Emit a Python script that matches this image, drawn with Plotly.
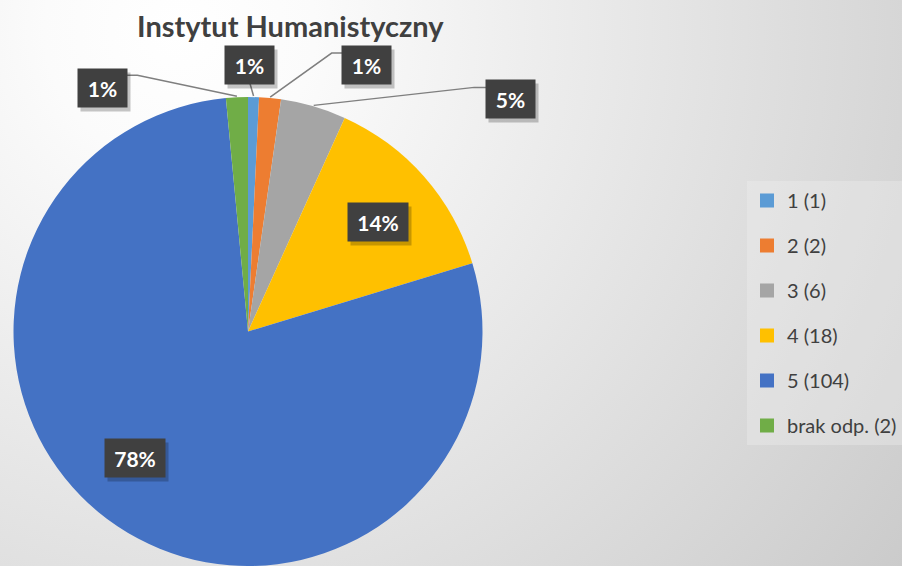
import math, base64
import plotly.graph_objects as go

# ---- data ----
categories = ["1", "2", "3", "4", "5", "brak odp."]
counts = [1, 2, 6, 18, 104, 2]
pct_labels = ["1%", "1%", "5%", "14%", "78%", "1%"]
colors = ["#5B9BD5", "#ED7D31", "#A5A5A5", "#FFC000", "#4472C4", "#70AD47"]
title_text = "Instytut Humanistyczny"

W, H = 902, 566
# pie placement (pixels)
PIE_L, PIE_R, PIE_T = 13, 483, 97
R = (PIE_R - PIE_L) / 2
CX = (PIE_L + PIE_R) / 2
CY = H - R

def px(x):
    return x / W

def py(y):
    return 1 - y / H

total = sum(counts)
mid_angles = []
acc = 0
for v in counts:
    mid_angles.append((acc + v / 2) / total * 2 * math.pi)
    acc += v

def polar(theta, rho):
    return CX + rho * math.sin(theta), CY - rho * math.cos(theta)

# label style: radius factor for anchor, box offset, box width, leader attach/elbow
label_style = {
    0: dict(rf=1.0, dx=-4, dy=-31, w=47, attach=(0, 17), elbow=None),
    1: dict(rf=1.0, dx=96, dy=-32, w=47, attach=(-23.5, -12), elbow=-11),
    2: dict(rf=1.0, dx=197, dy=-6, w=47, attach=(-23.5, -12), elbow=-13),
    3: dict(rf=0.72, dx=3, dy=3, w=58, attach=None, elbow=None),
    4: dict(rf=0.72, dx=-19, dy=-14, w=58, attach=None, elbow=None),
    5: dict(rf=1.0, dx=-134, dy=-8, w=47, attach=(23.5, -13), elbow=11),
}

fig = go.Figure()
fig.add_trace(go.Pie(
    labels=[f"{c} ({n})" for c, n in zip(categories, counts)],
    values=counts,
    sort=False,
    direction="clockwise",
    rotation=0,
    marker=dict(colors=colors, line=dict(width=0)),
    textinfo="none",
    hoverinfo="label+percent",
    showlegend=False,
    domain=dict(x=[px(PIE_L), px(PIE_R)], y=[0, py(PIE_T)]),
))

# legend entries via dummy traces (to get Excel-like spacing)
for c, n, col in zip(categories, counts, colors):
    fig.add_trace(go.Scatter(
        x=[None], y=[None], mode="markers",
        marker=dict(symbol="square", size=14, color=col),
        name=f"{c} ({n})", legendgroup=c, showlegend=True,
    ))

shapes = []
annotations = []
BOX_H = 36
for i, lab in enumerate(pct_labels):
    st = label_style[i]
    ax_, ay_ = polar(mid_angles[i], R * st["rf"])
    bx, by = ax_ + st["dx"], ay_ + st["dy"]
    if st["rf"] >= 1.0:
        atx, aty = bx + st["attach"][0], by + st["attach"][1]
        pts = [(ax_, ay_)]
        if st["elbow"] is not None:
            pts.append((atx + st["elbow"], aty))
        pts.append((atx, aty))
        path = "M " + " L ".join(f"{px(x)},{py(y)}" for x, y in pts)
        shapes.append(dict(type="path", path=path, xref="paper", yref="paper",
                           line=dict(color="#7F7F7F", width=1.5), layer="above"))
    # shadow
    annotations.append(dict(x=px(bx + 3), y=py(by + 4), xref="paper", yref="paper",
                            text=" ", showarrow=False, width=st["w"], height=BOX_H,
                            bgcolor="rgba(0,0,0,0.22)", xanchor="center", yanchor="middle",
                            font=dict(size=20)))
    annotations.append(dict(x=px(bx), y=py(by), xref="paper", yref="paper",
                            text=f"<b>{lab}</b>", showarrow=False, width=st["w"], height=BOX_H,
                            bgcolor="#404040", xanchor="center", yanchor="middle",
                            font=dict(family="Lato", size=21, color="white")))

annotations.append(dict(x=px(290), y=py(26), xref="paper", yref="paper",
                        text=f"<b>{title_text}</b>", showarrow=False,
                        xanchor="center", yanchor="middle",
                        font=dict(family="Lato", size=29, color="#404040")))

svg = f'''<svg xmlns="http://www.w3.org/2000/svg" width="{W}" height="{H}">
<defs><radialGradient id="g" gradientUnits="userSpaceOnUse" cx="180" cy="30" r="900">
<stop offset="0" stop-color="#ffffff"/><stop offset="0.15" stop-color="#fbfbfb"/>
<stop offset="1" stop-color="#cbcbcb"/></radialGradient></defs>
<rect width="{W}" height="{H}" fill="url(#g)"/></svg>'''
src = "data:image/svg+xml;base64," + base64.b64encode(svg.encode()).decode()

fig.update_layout(
    width=W, height=H,
    margin=dict(l=0, r=0, t=0, b=0),
    paper_bgcolor="white",
    plot_bgcolor="rgba(0,0,0,0)",
    xaxis=dict(visible=False),
    yaxis=dict(visible=False),
    shapes=shapes,
    annotations=annotations,
    images=[dict(source=src, xref="paper", yref="paper", x=0, y=1, sizex=1, sizey=1,
                 sizing="stretch", xanchor="left", yanchor="top", layer="below")],
    legend=dict(x=px(747), y=py(181), xanchor="left", yanchor="top",
                bgcolor="rgba(240,240,240,0.35)", borderwidth=0,
                font=dict(family="Lato", size=20, color="#404040"),
                tracegroupgap=16, itemwidth=30),
    font=dict(family="Lato"),
)

fig.write_html("out.html", config={"displayModeBar": False},
               post_script="document.body.style.margin='0px';document.body.style.overflow='hidden';")
